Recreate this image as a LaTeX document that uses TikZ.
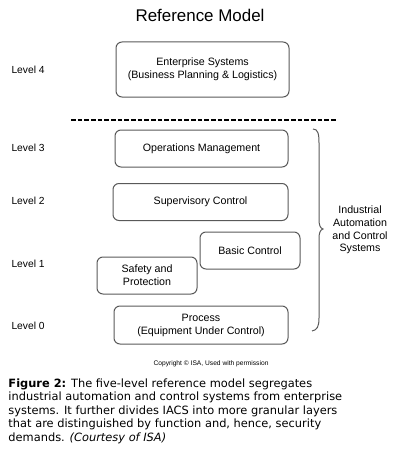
\documentclass[tikz,border=0pt]{standalone}
\usepackage{fontspec}
\setmainfont{Liberation Sans}
\newfontfamily\capfont{DejaVu Sans}
\usetikzlibrary{positioning}

\tikzset{every picture/.style={line width=0.75pt}}
\tikzset{
	levelbox/.style={draw=black!65, rounded corners=4.5pt, inner sep=0.75pt, align=center, font=\fontsize{8}{9.75}\selectfont},
	levellabel/.style={anchor=west, inner sep=0.75pt, font=\fontsize{7.7}{9}\selectfont}
}

\begin{document}
\begin{tikzpicture}[x=0.75pt,y=0.75pt,yscale=-1,xscale=1]
	\useasboundingbox (0,0) rectangle (400,460);
	
	% Title
	\node (title) at (200,15) [inner sep=0.75pt] {\fontsize{12.7}{14}\selectfont Reference Model};
	
	%Shape: Rounded Rect [id:enterprise]
	\node (ent) at (202.5,69.5) [levelbox, minimum width=129.75pt, minimum height=41.25pt] {Enterprise Systems\\(Business Planning \& Logistics)};
	%Shape: Rounded Rect [id:operations]
	\node (ops) at (201.5,148.5) [levelbox, minimum width=129.75pt, minimum height=27.75pt] {Operations Management};
	%Shape: Rounded Rect [id:supervisory]
	\node (sup) at (200.5,202) [levelbox, minimum width=131.25pt, minimum height=27.75pt] {Supervisory Control};
	%Shape: Rounded Rect [id:basic]
	\node (basic) at (250,250.5) [levelbox, minimum width=75pt, minimum height=27.75pt] {Basic Control};
	%Shape: Rounded Rect [id:safety]
	\node (safety) at (147,275.5) [levelbox, minimum width=75pt, minimum height=27.75pt] {Safety and\\Protection};
	%Shape: Rounded Rect [id:process]
	\node (process) at (201,325) [levelbox, minimum width=130.5pt, minimum height=28.5pt] {Process\\(Equipment Under Control)};
	
	%Straight Lines [id:dashline]
	\draw [line width=1.4pt, dash pattern={on 3.4pt off 1.6pt}] (71,120) -- (337,120) ;
	
	%Curve Lines [id:brace]
	\coordinate (btop) at (313,129);
	\coordinate (btip) at (323,229);
	\coordinate (bbot) at (312,331);
	\draw [draw=black!65] (btop) .. controls (318,129) and (319,134) .. (319,143) -- (319,219) .. controls (319,225) and (320,228) .. (btip) .. controls (320,230) and (319,233) .. (319,239) -- (319,318) .. controls (319,327) and (317,330) .. (bbot) ;
	
	% Text Node
	\node (l4) at (10,70) [levellabel] {Level 4};
	% Text Node
	\node (l3) at (10,148) [levellabel] {Level 3};
	% Text Node
	\node (l2) at (10,201) [levellabel] {Level 2};
	% Text Node
	\node (l1) at (10,264) [levellabel] {Level 1};
	% Text Node
	\node (l0) at (10,326) [levellabel] {Level 0};
	% Text Node
	\node (iacs) at (360,230) [inner sep=0.75pt, align=center, font=\fontsize{8}{9.6}\selectfont] {Industrial\\Automation\\and Control\\Systems};
	% Text Node
	\node (copy) at (211,364) [inner sep=0.75pt, font=\fontsize{5}{6}\selectfont] {Copyright \textcopyright\ ISA, Used with permission};
	% Text Node
	\node (caption) at (8,411) [anchor=west, inner sep=0pt, align=left, font=\capfont\fontsize{8.55}{10.1}\selectfont] {\textbf{Figure 2:} The five-level reference model segregates\\industrial automation and control systems from enterprise\\systems. It further divides IACS into more granular layers\\that are distinguished by function and, hence, security\\demands. \textit{(Courtesy of ISA)}};
	
\end{tikzpicture}
\end{document}
